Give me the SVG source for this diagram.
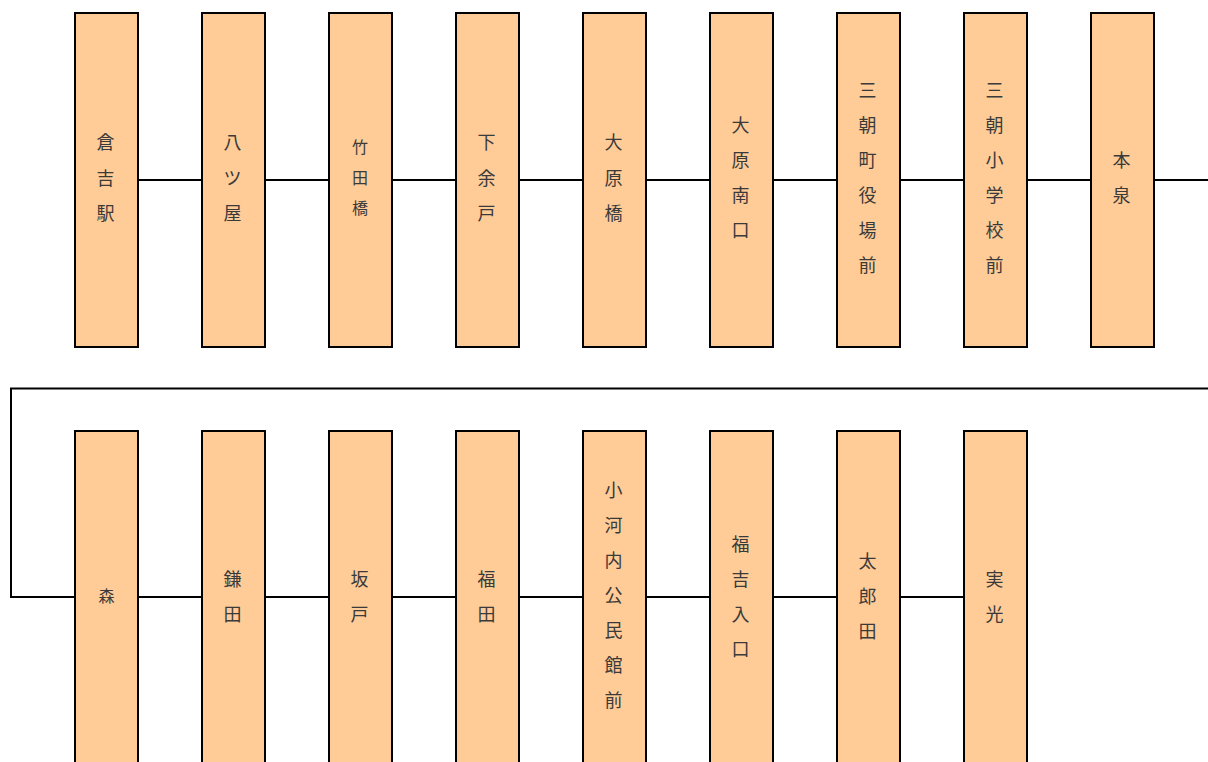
<svg xmlns="http://www.w3.org/2000/svg" width="1208" height="762" viewBox="0 0 1208 762">
<style>
.st rect{fill:#ffcb96;stroke:#000;stroke-width:2}
.st text{font-family:"Noto Sans CJK JP","Noto Sans",sans-serif;font-size:18px;fill:#3a3a3a;text-anchor:middle;dominant-baseline:central}
.st text.s{font-size:16px}
.cn{fill:none;stroke:#000;stroke-width:2}
</style>
<rect width="1208" height="762" fill="#fff"/>
<g id="connectors" class="cn">
<path d="M138 180H202M265 180H329M392 180H456M519 180H583M646 180H710M773 180H837M900 180H964M1027 180H1091M1154 180H1208"/>
<path d="M1208 388.5H11V597H75"/>
<path d="M138 597H202M265 597H329M392 597H456M519 597H583M646 597H710M773 597H837M900 597H964"/>
</g>
<g class="st">
<g id="n1"><rect x="75" y="13" width="63" height="334"/><text x="105.5"><tspan x="105.5" y="141">倉</tspan><tspan x="105.5" y="176.5">吉</tspan><tspan x="105.5" y="212">駅</tspan></text></g>
<g id="n2"><rect x="202" y="13" width="63" height="334"/><text x="232.5"><tspan x="232.5" y="141">八</tspan><tspan x="232.5" y="176.5">ツ</tspan><tspan x="232.5" y="212">屋</tspan></text></g>
<g id="n3"><rect x="329" y="13" width="63" height="334"/><text class="s" x="360"><tspan x="360" y="146">竹</tspan><tspan x="360" y="177">田</tspan><tspan x="360" y="207">橋</tspan></text></g>
<g id="n4"><rect x="456" y="13" width="63" height="334"/><text x="486.5"><tspan x="486.5" y="141">下</tspan><tspan x="486.5" y="176.5">余</tspan><tspan x="486.5" y="212">戸</tspan></text></g>
<g id="n5"><rect x="583" y="13" width="63" height="334"/><text x="613.5"><tspan x="613.5" y="141">大</tspan><tspan x="613.5" y="176.5">原</tspan><tspan x="613.5" y="212">橋</tspan></text></g>
<g id="n6"><rect x="710" y="13" width="63" height="334"/><text x="740.5"><tspan x="740.5" y="124">大</tspan><tspan x="740.5" y="159">原</tspan><tspan x="740.5" y="194">南</tspan><tspan x="740.5" y="229">口</tspan></text></g>
<g id="n7"><rect x="837" y="13" width="63" height="334"/><text x="867.5"><tspan x="867.5" y="89">三</tspan><tspan x="867.5" y="124">朝</tspan><tspan x="867.5" y="159">町</tspan><tspan x="867.5" y="194">役</tspan><tspan x="867.5" y="229">場</tspan><tspan x="867.5" y="264">前</tspan></text></g>
<g id="n8"><rect x="964" y="13" width="63" height="334"/><text x="994.5"><tspan x="994.5" y="89">三</tspan><tspan x="994.5" y="124">朝</tspan><tspan x="994.5" y="159">小</tspan><tspan x="994.5" y="194">学</tspan><tspan x="994.5" y="229">校</tspan><tspan x="994.5" y="264">前</tspan></text></g>
<g id="n9"><rect x="1091" y="13" width="63" height="334"/><text x="1121.5"><tspan x="1121.5" y="159">本</tspan><tspan x="1121.5" y="194">泉</tspan></text></g>
<g id="n10"><rect x="75" y="431" width="63" height="345"/><text class="s" x="106.5" y="594.5">森</text></g>
<g id="n11"><rect x="202" y="431" width="63" height="345"/><text x="232.5"><tspan x="232.5" y="578">鎌</tspan><tspan x="232.5" y="613">田</tspan></text></g>
<g id="n12"><rect x="329" y="431" width="63" height="345"/><text x="359.5"><tspan x="359.5" y="578">坂</tspan><tspan x="359.5" y="613">戸</tspan></text></g>
<g id="n13"><rect x="456" y="431" width="63" height="345"/><text x="486.5"><tspan x="486.5" y="578">福</tspan><tspan x="486.5" y="613">田</tspan></text></g>
<g id="n14"><rect x="583" y="431" width="63" height="345"/><text x="613.5"><tspan x="613.5" y="489">小</tspan><tspan x="613.5" y="524">河</tspan><tspan x="613.5" y="559">内</tspan><tspan x="613.5" y="594">公</tspan><tspan x="613.5" y="629">民</tspan><tspan x="613.5" y="664">館</tspan><tspan x="613.5" y="699">前</tspan></text></g>
<g id="n15"><rect x="710" y="431" width="63" height="345"/><text x="740.5"><tspan x="740.5" y="543">福</tspan><tspan x="740.5" y="578">吉</tspan><tspan x="740.5" y="613">入</tspan><tspan x="740.5" y="648">口</tspan></text></g>
<g id="n16"><rect x="837" y="431" width="63" height="345"/><text x="867.5"><tspan x="867.5" y="560">太</tspan><tspan x="867.5" y="595">郎</tspan><tspan x="867.5" y="630">田</tspan></text></g>
<g id="n17"><rect x="964" y="431" width="63" height="345"/><text x="994.5"><tspan x="994.5" y="578">実</tspan><tspan x="994.5" y="613">光</tspan></text></g>
</g>
</svg>
